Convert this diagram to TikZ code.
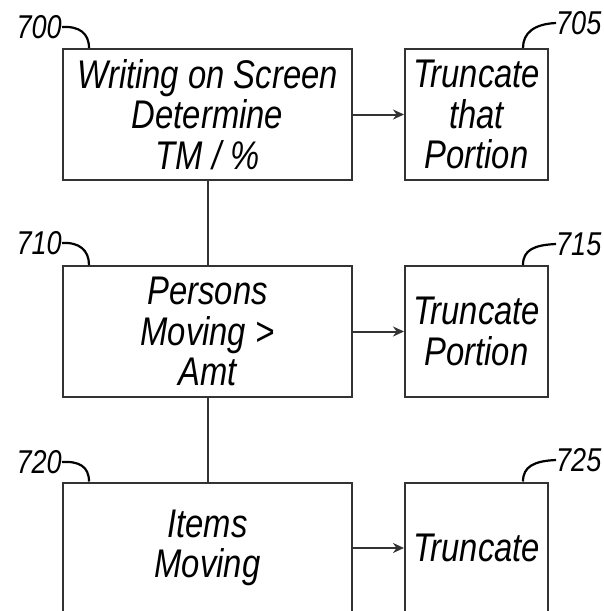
\documentclass[tikz,border=0pt]{standalone}
\usepackage{fontspec}
\setmainfont{Liberation Sans}[FakeStretch=0.82]
\usetikzlibrary{arrows.meta}

\begin{document}
\begin{tikzpicture}[x=1pt, y=-1pt,
  stepbox/.style={draw, line width=2pt, black!80, text=black, inner sep=0pt,
    minimum height=131pt, align=center,
    font=\fontsize{40}{40.5}\selectfont\itshape},
  wide/.style={stepbox, minimum width=289pt},
  narrow/.style={stepbox, minimum width=143pt},
  refnum/.style={inner sep=0pt, font=\fontsize{33}{33}\selectfont\itshape},
  lead/.style={line width=2.2pt},
  flow/.style={line width=2pt, black!80, -{Stealth[length=11pt, width=10pt]}}]
\path[use as bounding box, clip] (0,0) rectangle (604,611);
\path (207.5,114.5) node[wide] (W) {Writing on Screen\\Determine\\TM / \%};
\path (476.5,114.5) node[narrow] (T1) {Truncate\\that\\Portion};
\path (207.5,331.5) node[wide] (P) {Persons\\Moving >\\Amt};
\path (476.5,331.5) node[narrow] (T2) {Truncate\\Portion};
\path (207.5,548) node[wide] (I) {Items\\Moving};
\path (476.5,548) node[narrow] (T3) {Truncate};
\draw[flow] (W) -- (T1);
\draw[flow] (P) -- (T2);
\draw[flow] (I) -- (T3);
\draw[line width=2pt, black!80] (W) -- (P) -- (I);
\path (62,27) node[refnum, anchor=east] (n700) {700};
\path (62,243) node[refnum, anchor=east] (n710) {710};
\path (62,462) node[refnum, anchor=east] (n720) {720};
\path (556,23) node[refnum, anchor=west] (n705) {705};
\path (556,244) node[refnum, anchor=west] (n715) {715};
\path (556,460) node[refnum, anchor=west] (n725) {725};
\draw[lead] (n700.east) .. controls +(17,-1) and +(0,-15) .. ([xshift=27pt]W.north west);
\draw[lead] (n710.east) .. controls +(17,-1) and +(0,-15) .. ([xshift=27pt]P.north west);
\draw[lead] (n720.east) .. controls +(17,-1) and +(0,-15) .. ([xshift=27pt]I.north west);
\draw[lead] (n705.west) .. controls +(-22,1) and +(0,-15) .. ([xshift=-26pt]T1.north east);
\draw[lead] (n715.west) .. controls +(-22,1) and +(0,-15) .. ([xshift=-26pt]T2.north east);
\draw[lead] (n725.west) .. controls +(-22,1) and +(0,-15) .. ([xshift=-26pt]T3.north east);
\end{tikzpicture}
\end{document}
